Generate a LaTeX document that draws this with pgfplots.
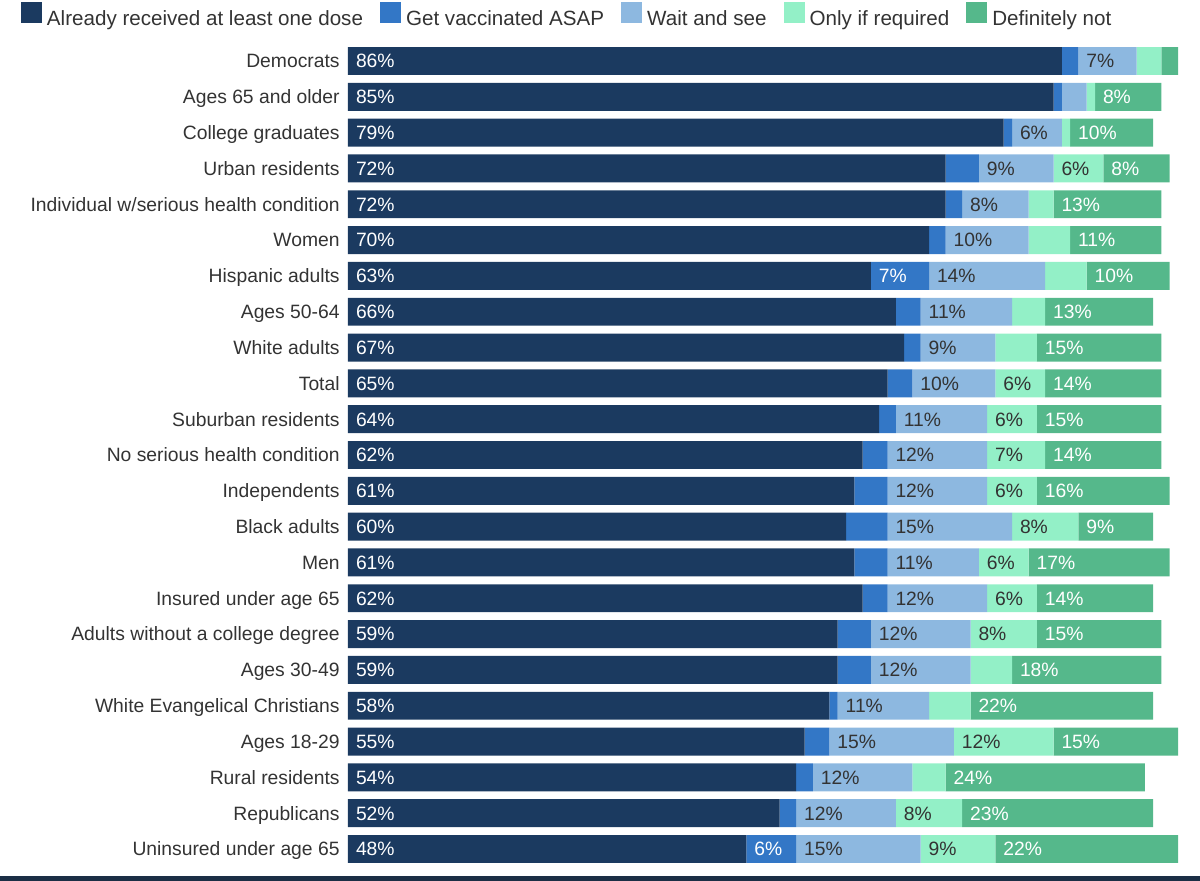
\documentclass[border=0pt]{standalone}
\usepackage{fontspec}
\setmainfont{Liberation Sans}
\usepackage{pgfplots}
\pgfplotsset{compat=1.18}
\usepackage{pgfplotstable}
\definecolor{cA}{HTML}{1B3A60}
\definecolor{cB}{HTML}{3377C6}
\definecolor{cC}{HTML}{8DB8E0}
\definecolor{cD}{HTML}{93F0C7}
\definecolor{cE}{HTML}{55B88B}
\definecolor{cT}{HTML}{333333}
\definecolor{cBand}{HTML}{1B2E45}

\pgfplotstableread{
i a b c d e
0 86 2 7 3 2
1 85 1 3 1 8
2 79 1 6 1 10
3 72 4 9 6 8
4 72 2 8 3 13
5 70 2 10 5 11
6 63 7 14 5 10
7 66 3 11 4 13
8 67 2 9 5 15
9 65 3 10 6 14
10 64 2 11 6 15
11 62 3 12 7 14
12 61 4 12 6 16
13 60 5 15 8 9
14 61 4 11 6 17
15 62 3 12 6 14
16 59 4 12 8 15
17 59 4 12 5 18
18 58 1 11 5 22
19 55 3 15 12 15
20 54 2 12 4 24
21 52 2 12 8 23
22 48 6 15 9 22
}\data

\pgfplotsset{
  geom/.style={at={(174pt,7.05pt)}, anchor=south west,
    scale only axis, width=415pt, height=411.9pt,
    xmin=0, xmax=100, ymin=-0.5, ymax=22.5, y dir=reverse, clip=false},
  lab/.style n args={2}{
    only marks, mark=none,
    visualization depends on={\thisrow{#1}\as\val},
    nodes near coords={\ifdim\val pt<5.5pt\relax\else\pgfmathprintnumber{\val}\%\fi},
    every node near coord/.append style={text=#2, anchor=west, inner sep=0pt,
      text height=6.9pt, text depth=0pt,
      font=\fontsize{9.65pt}{11pt}\selectfont, xshift=3.8pt}
  }
}

\begin{document}
\begin{tikzpicture}
\useasboundingbox (0,0) rectangle (600pt,440.5pt);
\fill[cBand] (0,0) rectangle (600pt,2.6pt);
\begin{axis}[
  geom,
  xbar stacked, bar width=0.78,
  axis line style={draw=none}, tick style={draw=none}, major tick length=0pt,
  xtick=\empty,
  ytick={0,...,22},
  yticklabels={Democrats, Ages 65 and older, College graduates, Urban residents,
    Individual w/serious health condition, Women, Hispanic adults, Ages 50-64,
    White adults, Total, Suburban residents, No serious health condition,
    Independents, Black adults, Men, Insured under age 65,
    Adults without a college degree, Ages 30-49, White Evangelical Christians,
    Ages 18-29, Rural residents, Republicans, Uninsured under age 65},
  yticklabel style={font=\fontsize{9.65pt}{11pt}\selectfont, text=cT, inner sep=0pt,
    text height=6.9pt, text depth=0pt, xshift=-4pt},
  legend columns=5,
  legend cell align=left,
  legend style={at={(axis description cs:-0.394,1.0499)}, anchor=north west,
    draw=none, fill=none, inner sep=0pt, outer sep=0pt,
    font=\fontsize{10.3pt}{12pt}\selectfont, text=cT,
    nodes={inner sep=0pt}, column sep=0pt,
    /tikz/every odd column/.append style={column sep=2.5pt},
    /tikz/every even column/.append style={column sep=8.5pt}},
  legend image code/.code={\fill[#1] (0pt,-1.65pt) rectangle (10.5pt,8.85pt);},
]
\addplot[fill=cA, draw=none] table[x=a, y=i]{\data};
\addlegendentry{Already received at least one dose}
\addplot[fill=cB, draw=none] table[x=b, y=i]{\data};
\addlegendentry{Get vaccinated ASAP}
\addplot[fill=cC, draw=none] table[x=c, y=i]{\data};
\addlegendentry{Wait and see}
\addplot[fill=cD, draw=none] table[x=d, y=i]{\data};
\addlegendentry{Only if required}
\addplot[fill=cE, draw=none] table[x=e, y=i]{\data};
\addlegendentry{Definitely not}
\end{axis}
\begin{axis}[geom, axis lines=none, /pgf/number format/assume math mode=true]
\addplot[lab={a}{white}] table[x expr=0, y=i]{\data};
\addplot[lab={b}{white}] table[x expr=\thisrow{a}, y=i]{\data};
\addplot[lab={c}{cT}] table[x expr=\thisrow{a}+\thisrow{b}, y=i]{\data};
\addplot[lab={d}{cT}] table[x expr=\thisrow{a}+\thisrow{b}+\thisrow{c}, y=i]{\data};
\addplot[lab={e}{white}] table[x expr=\thisrow{a}+\thisrow{b}+\thisrow{c}+\thisrow{d}, y=i]{\data};
\end{axis}
\end{tikzpicture}
\end{document}
